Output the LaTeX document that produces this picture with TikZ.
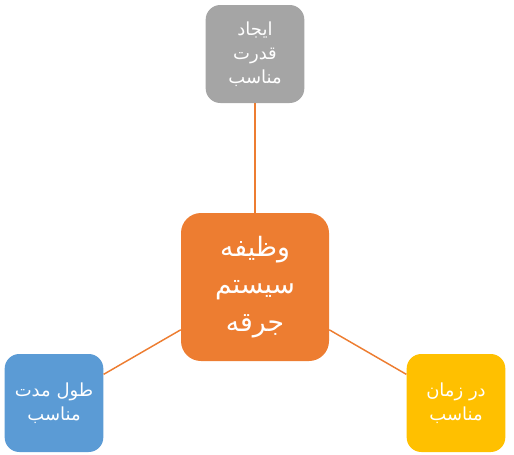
\documentclass[tikz,border=0pt]{standalone}
\usepackage{fontspec}
\TeXXeTstate=1
\newfontfamily\arabicfont[Script=Arabic]{DejaVu Sans}
\definecolor{cOrange}{HTML}{ED7D31}
\definecolor{cGray}{HTML}{A5A5A5}
\definecolor{cBlue}{HTML}{5B9BD5}
\definecolor{cGold}{HTML}{FFC000}
\tikzset{
  smallbox/.style={rectangle, rounded corners=11pt, minimum width=74pt, minimum height=73.5pt,
    inner sep=0pt, text=white, align=center, font=\arabicfont\fontsize{13.5}{18}\selectfont},
  bigbox/.style={rectangle, rounded corners=15pt, fill=cOrange, minimum width=111pt, minimum height=111pt,
    inner sep=0pt, text=white, align=center, font=\arabicfont\fontsize{20}{28}\selectfont},
  link/.style={draw=cOrange, line width=1.1pt}
}
\begin{document}
\begin{tikzpicture}[x=0.75pt,y=-0.75pt]
\useasboundingbox (0,0) rectangle (514,454);
\node[bigbox] (c) at (255,287) {\beginR وظیفه\endR\\\beginR سیستم\endR\\\beginR جرقه\endR};
\node[smallbox, fill=cGray] (t) at (255,54) {\beginR ایجاد\endR\\\beginR قدرت\endR\\\beginR مناسب\endR};
\node[smallbox, fill=cBlue] (l) at (54,403) {\beginR طول مدت\endR\\\beginR مناسب\endR};
\node[smallbox, fill=cGold] (r) at (456,403) {\beginR در زمان\endR\\\beginR مناسب\endR};
\draw[link] (t) -- (c);
\draw[link] (l) -- (c);
\draw[link] (r) -- (c);
\end{tikzpicture}
\end{document}
